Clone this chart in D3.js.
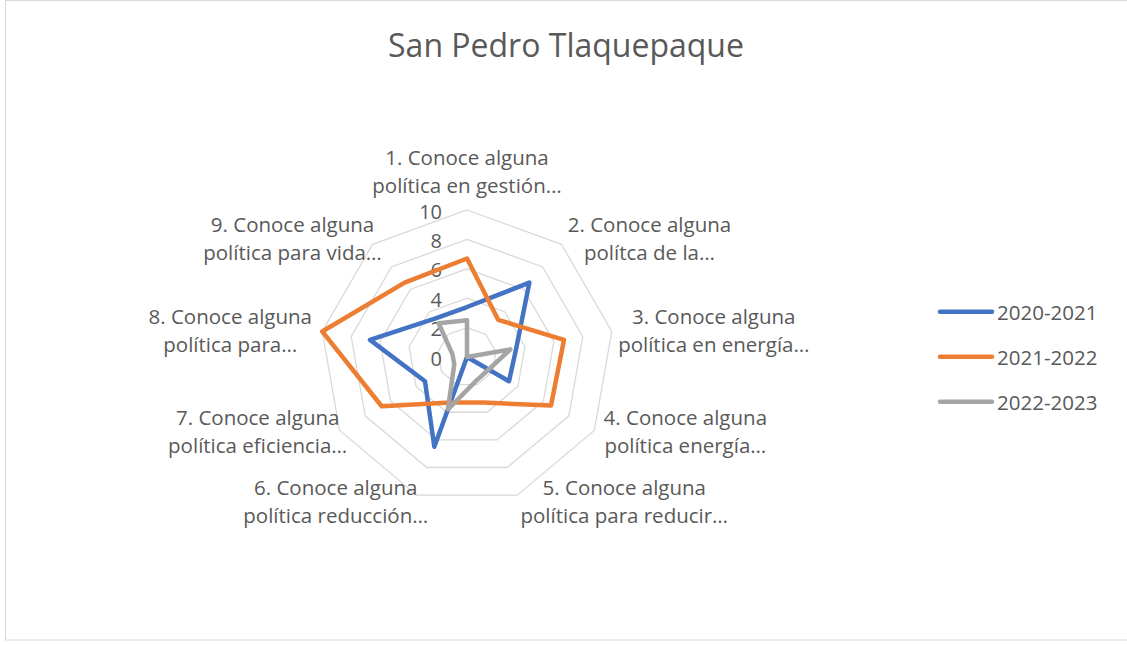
<!DOCTYPE html>
<html>
<head>
<meta charset="utf-8">
<script src="https://cdn.jsdelivr.net/npm/d3@7"></script>
<style>
  body { margin: 0; background: #fff; }
  svg text { font-family: "Open Sans", "Noto Sans", sans-serif; fill: #595959; }
</style>
</head>
<body>
<svg id="chart" width="1127" height="645"></svg>
<script>
const title = "San Pedro Tlaquepaque";

const categories = [
  ["1. Conoce alguna", "política en gestión…"],
  ["2. Conoce alguna", "polítca de la…"],
  ["3. Conoce alguna", "política en energía…"],
  ["4. Conoce alguna", "política energía…"],
  ["5. Conoce alguna", "política para reducir…"],
  ["6. Conoce alguna", "política reducción…"],
  ["7. Conoce alguna", "política eficiencia…"],
  ["8. Conoce alguna", "política para…"],
  ["9. Conoce alguna", "política para vida…"],
];

const seriesNames = ["2020-2021", "2021-2022", "2022-2023"];
const values2020 = [3.4, 6.6, 3.4, 3.3, 0, 6.5, 3.3, 6.7, 3.4];
const values2021 = [6.7, 3.3, 6.7, 6.6, 3.3, 3.3, 6.7, 10, 6.6];
const values2022 = [2.5, 0, 3, 1.7, 1.75, 3.8, 1, 1, 3];
const tickValues = [0, 2, 4, 6, 8, 10];

const colors = ["#4472C4", "#ED7D31", "#A5A5A5"];
const series = [values2020, values2021, values2022];

const width = 1127, height = 645;
const cx = 467, cy = 357, radius = 147;

// nudges of each category label block (centre) from the end of its axis
const labelNudge = [
  [0, -39], [88, -6], [102, -1], [91, 0], [107, 6],
  [-81, 6], [-82, 0], [-92, -1], [-80, -6],
];

const svg = d3.select("#chart");

svg.append("rect")
  .attr("width", width).attr("height", height).attr("fill", "#fff");
svg.append("rect")
  .attr("x", 5.5).attr("y", 0.5)
  .attr("width", width).attr("height", 639.5)
  .attr("fill", "none").attr("stroke", "#d9d9d9").attr("stroke-width", 1);

svg.append("text")
  .attr("x", 566).attr("y", 57)
  .attr("text-anchor", "middle")
  .style("font-size", "32px")
  .text(title);

const r = d3.scaleLinear().domain([0, 10]).range([0, radius]);
const angle = d3.scalePoint()
  .domain(d3.range(categories.length))
  .range([0, 2 * Math.PI * (categories.length - 1) / categories.length]);

const g = svg.append("g").attr("transform", `translate(${cx},${cy})`);

// grid rings
tickValues.filter((t) => t > 0).forEach((t) => {
  const line = d3.lineRadial()
    .angle((d) => angle(d))
    .radius(() => r(t))
    .curve(d3.curveLinearClosed);
  g.append("path")
    .attr("d", line(d3.range(categories.length)))
    .attr("fill", "none")
    .attr("stroke", "#d9d9d9")
    .attr("stroke-width", 1.3);
});

// tick labels
g.selectAll(".tick-label")
  .data(tickValues)
  .join("text")
  .attr("class", "tick-label")
  .attr("x", -25)
  .attr("y", (d) => -r(d) + 1)
  .attr("text-anchor", "end")
  .attr("dominant-baseline", "central")
  .style("font-size", "20px")
  .text((d) => d);

// series
const seriesLine = d3.lineRadial()
  .angle((d, i) => angle(i))
  .radius((d) => r(d))
  .curve(d3.curveLinearClosed);

series.forEach((vals, k) => {
  g.append("path")
    .attr("d", seriesLine(vals))
    .attr("fill", "none")
    .attr("stroke", colors[k])
    .attr("stroke-width", 4.5)
    .attr("stroke-linejoin", "round");
});

// category labels
categories.forEach((lines, i) => {
  const a = angle(i);
  const x = Math.sin(a) * r(10) + labelNudge[i][0];
  const y = -Math.cos(a) * r(10) + labelNudge[i][1];
  const t = g.append("text")
    .attr("text-anchor", "middle")
    .style("font-size", "20.5px");
  lines.forEach((line, j) => {
    t.append("tspan")
      .attr("x", x)
      .attr("y", y + (j - 0.5) * 28)
      .attr("dominant-baseline", "central")
      .text(line);
  });
});

// legend
const legend = svg.append("g");
seriesNames.forEach((name, k) => {
  const ly = 311.7 + k * 45;
  legend.append("line")
    .attr("x1", 940).attr("x2", 992)
    .attr("y1", ly).attr("y2", ly)
    .attr("stroke", colors[k])
    .attr("stroke-width", 4.5)
    .attr("stroke-linecap", "round");
  legend.append("text")
    .attr("x", 997).attr("y", ly)
    .attr("dominant-baseline", "central")
    .style("font-size", "20.5px")
    .text(name);
});
</script>
</body>
</html>
